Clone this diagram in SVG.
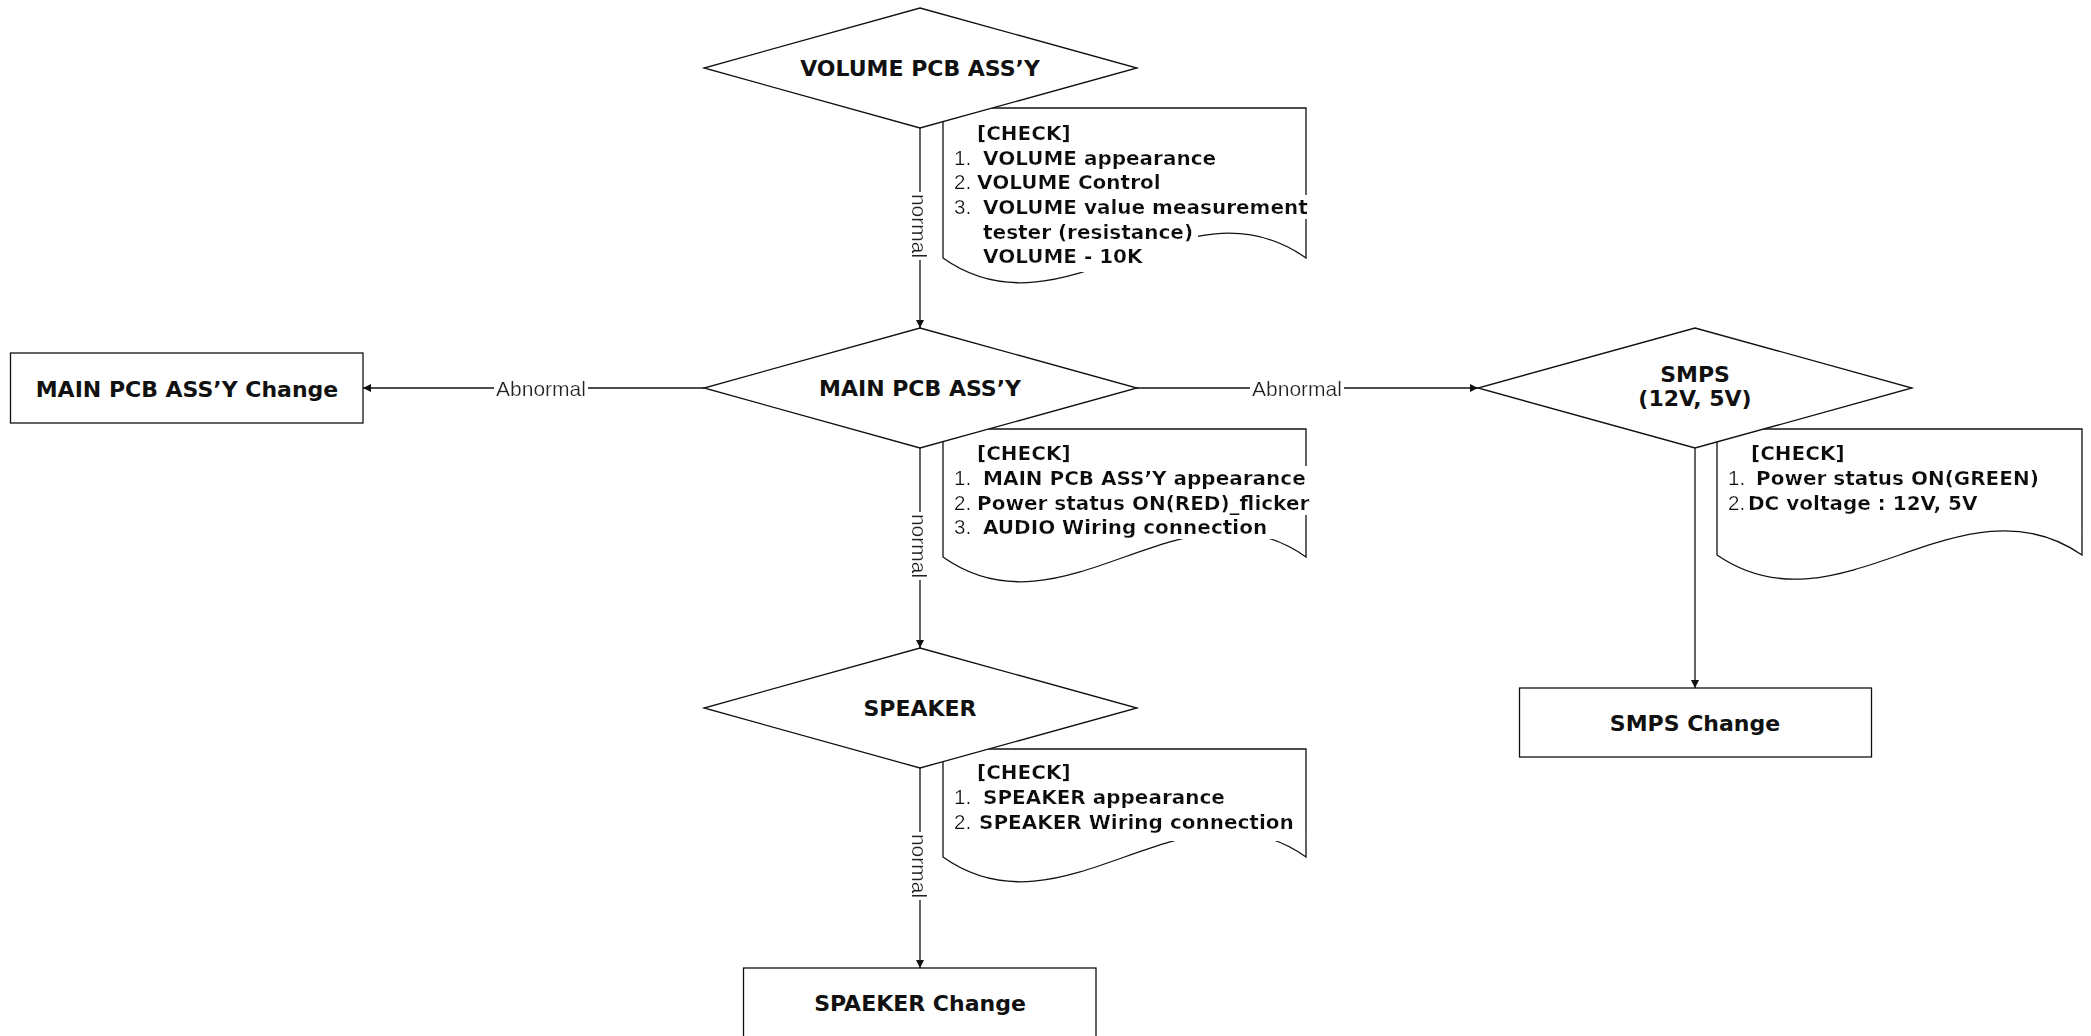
<svg xmlns="http://www.w3.org/2000/svg" width="2091" height="1036" viewBox="0 0 2091 1036">
<style>
.shape{fill:#fff;stroke:#111;stroke-width:1.3}
.conn{fill:none;stroke:#111;stroke-width:1.3}
.t{font-family:"DejaVu Sans",sans-serif;font-weight:bold;font-size:22px;fill:#111;text-anchor:middle}
.c{font-family:"DejaVu Sans",sans-serif;font-weight:bold;font-size:20px;fill:#111}
.n{font-family:"Liberation Sans",Arial,sans-serif;font-weight:normal;font-size:20.5px}
.lbl{font-family:"Liberation Sans",Arial,sans-serif;font-size:21px;fill:#222;text-anchor:middle;dominant-baseline:central}
</style>
<defs>
<marker id="arr" viewBox="0 0 10 10" refX="10" refY="5" markerWidth="9" markerHeight="8" markerUnits="userSpaceOnUse" orient="auto">
<path d="M0,0 L10,5 L0,10 z" fill="#111"/>
</marker>
<filter id="bg" x="-0.02" y="0" width="1.04" height="1">
<feFlood flood-color="#fff" result="f"/>
<feMerge><feMergeNode in="f"/><feMergeNode in="SourceGraphic"/></feMerge>
</filter>
<filter id="bgWide" x="-0.02" y="0" width="1.42" height="1.15">
<feFlood flood-color="#fff" result="f"/>
<feMerge><feMergeNode in="f"/><feMergeNode in="SourceGraphic"/></feMerge>
</filter>
<filter id="bgTall" x="-0.02" y="0" width="1.04" height="1.3">
<feFlood flood-color="#fff" result="f"/>
<feMerge><feMergeNode in="f"/><feMergeNode in="SourceGraphic"/></feMerge>
</filter>
</defs>
<rect width="2091" height="1036" fill="#fff"/>

<g id="connectors">
<line class="conn" x1="920" y1="128" x2="920" y2="328" marker-end="url(#arr)"/>
<line class="conn" x1="920" y1="448" x2="920" y2="648" marker-end="url(#arr)"/>
<line class="conn" x1="920" y1="768" x2="920" y2="968" marker-end="url(#arr)"/>
<line class="conn" x1="704" y1="388" x2="363" y2="388" marker-end="url(#arr)"/>
<line class="conn" x1="1136" y1="388" x2="1478" y2="388" marker-end="url(#arr)"/>
<line class="conn" x1="1695" y1="448" x2="1695" y2="688" marker-end="url(#arr)"/>
<text class="lbl" filter="url(#bg)" transform="translate(920 226) rotate(90)">normal</text>
<text class="lbl" filter="url(#bg)" transform="translate(920 546) rotate(90)">normal</text>
<text class="lbl" filter="url(#bg)" transform="translate(920 866) rotate(90)">normal</text>
<text class="lbl" filter="url(#bg)" x="541" y="388">Abnormal</text>
<text class="lbl" filter="url(#bg)" x="1297" y="388">Abnormal</text>
</g>

<g id="check-volume">
<path class="shape" d="M943,108 H1306 V258 C1185,172 1064,344 943,258 Z"/>
<text class="c" x="977" y="139.5" filter="url(#bg)">[CHECK]</text>
<text class="c" y="164.5" filter="url(#bg)"><tspan class="n" x="954">1.</tspan><tspan x="983">VOLUME appearance</tspan></text>
<text class="c" y="189" filter="url(#bg)"><tspan class="n" x="954">2.</tspan><tspan x="977">VOLUME Control</tspan></text>
<text class="c" y="214" filter="url(#bg)"><tspan class="n" x="954">3.</tspan><tspan x="983">VOLUME value measurement</tspan></text>
<text class="c" x="983" y="238.5" filter="url(#bg)">tester (resistance)</text>
<text class="c" x="983" y="263" filter="url(#bgWide)">VOLUME - 10K</text>
</g>

<g id="check-main">
<path class="shape" d="M943,429 H1306 V557 C1185,471 1064,643 943,557 Z"/>
<text class="c" x="977" y="460" filter="url(#bg)">[CHECK]</text>
<text class="c" y="485" filter="url(#bg)"><tspan class="n" x="954">1.</tspan><tspan x="983">MAIN PCB ASS’Y appearance</tspan></text>
<text class="c" y="509.5" filter="url(#bg)"><tspan class="n" x="954">2.</tspan><tspan x="977">Power status ON(RED)_flicker</tspan></text>
<text class="c" y="534" filter="url(#bg)"><tspan class="n" x="954">3.</tspan><tspan x="983">AUDIO Wiring connection</tspan></text>
</g>

<g id="check-speaker">
<path class="shape" d="M943,749 H1306 V857 C1185,771 1064,943 943,857 Z"/>
<text class="c" x="977" y="779" filter="url(#bg)">[CHECK]</text>
<text class="c" y="804" filter="url(#bg)"><tspan class="n" x="954">1.</tspan><tspan x="983">SPEAKER appearance</tspan></text>
<text class="c" y="828.5" filter="url(#bgTall)"><tspan class="n" x="954">2.</tspan><tspan x="979">SPEAKER Wiring connection</tspan></text>
</g>

<g id="check-smps">
<path class="shape" d="M1717,429 H2082 V555 C1960,471 1839,639 1717,555 Z"/>
<text class="c" x="1751" y="460" filter="url(#bg)">[CHECK]</text>
<text class="c" y="485" filter="url(#bg)"><tspan class="n" x="1728">1.</tspan><tspan x="1756">Power status ON(GREEN)</tspan></text>
<text class="c" y="510" filter="url(#bg)"><tspan class="n" x="1728">2.</tspan><tspan x="1748">DC voltage : 12V, 5V</tspan></text>
</g>

<g id="volume-pcb">
<polygon class="shape" points="920,8 1137,68 920,128 704,68"/>
<text class="t" x="920" y="76">VOLUME PCB ASS’Y</text>
</g>

<g id="main-pcb">
<polygon class="shape" points="920,328 1137,388 920,448 704,388"/>
<text class="t" x="920" y="396">MAIN PCB ASS’Y</text>
</g>

<g id="speaker">
<polygon class="shape" points="920,648 1137,708 920,768 704,708"/>
<text class="t" x="920" y="716">SPEAKER</text>
</g>

<g id="smps">
<polygon class="shape" points="1695,328 1912,388 1695,448 1478,388"/>
<text class="t" x="1695" y="382">SMPS</text>
<text class="t" x="1695" y="406">(12V, 5V)</text>
</g>

<g id="main-pcb-change">
<rect class="shape" x="10.5" y="353" width="352.5" height="70"/>
<text class="t" x="187" y="397">MAIN PCB ASS’Y Change</text>
</g>

<g id="smps-change">
<rect class="shape" x="1519.5" y="688" width="352" height="69"/>
<text class="t" x="1695" y="731">SMPS Change</text>
</g>

<g id="speaker-change">
<rect class="shape" x="743.5" y="968" width="352.5" height="70"/>
<text class="t" x="920" y="1011">SPAEKER Change</text>
</g>
</svg>
